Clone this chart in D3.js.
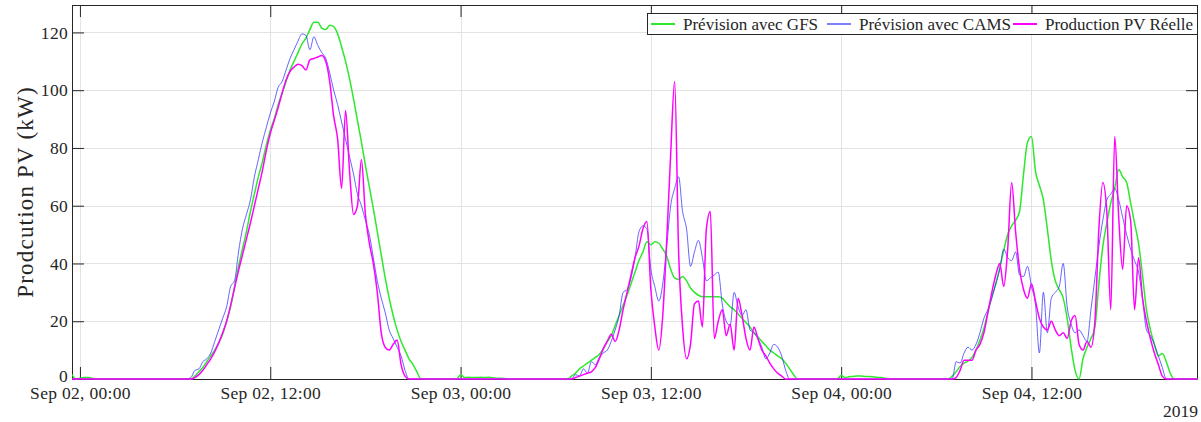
<!DOCTYPE html>
<html>
<head>
<meta charset="utf-8">
<script src="https://cdn.jsdelivr.net/npm/d3@7"></script>
<style>
body { margin: 0; background: #fff; }
svg { display: block; }
text { font-family: "Liberation Serif", "DejaVu Serif", serif; fill: #262626; }
</style>
</head>
<body>
<svg id="chart" width="1201" height="422"></svg>
<script>
// quarter-hour values, each day window starts at 06:30
var seriesNames = ["Prévision avec GFS", "Prévision avec CAMS", "Production PV Réelle"];
var dayStarts = ["2019-09-02T06:30", "2019-09-03T06:30", "2019-09-04T06:30"];
var nightStarts = ["2019-09-01T23:30", "2019-09-02T23:30", "2019-09-03T23:30"];
var timeDomain = ["2019-09-01T23:30", "2019-09-04T22:30"];

var gfsDay = [
    [0,0,0,1,2.5,4,6,8,10,12.5,15.5,20,25,32,39,45,51,58,64,70,75,81,86,90,95,99,103,107,110,113,116,118,121,123.5,123.5,121.5,121,122.5,122,119.5,115,110,104,97,89.5,82,74,66.5,59,51,43,35,28,22,17,13,10,7,5,2.5,0],
    [0,0,1,2,3.5,4.5,5.5,6.5,7.5,8.5,10.5,13,15,18.5,22,25.5,29,33,37,41,44,47.5,46.5,47.5,47,45,42.5,38,35,34.5,35.5,34,31.5,30,29,28.5,28.5,28.5,28.5,28.5,28,26.5,25,24,22.5,21,19.5,18,16,14.5,13,11.5,10,9,8,7,5.5,3.5,1.5,0,0],
    [0,0,1,2.5,4.3,5.5,6.2,7.5,10,13.5,17.5,23,28.5,33,38.5,44.5,50,53,55,58,71,82,84,72,67,62,52,41,34,31,28,21,11,3,0,7,11,14,18,33,46,54,61,66,72.5,70,68,61,54,47,36,24,17,12,8,8.8,6,2,0,0,0]
];
var gfsNight = [
    [1.5,0,0.3,0.5,0.5,0.3,0],
    [0,0,1.5,0.5,0.6,0.5,0.5,0.6,0.5,0.6,0.4,0.3,0.3,0.2,0],
    [0,0,1.2,0.5,0.8,0.9,1,1,0.9,0.9,0.8,0.6,0.5,0.3,0]
];
var camsDay = [
    [0,0,0.5,3,3.5,6,7,9,13,17,21,25,32,34,44,52,57,62,70,76,82,87,92,96,101,103,107,111,114,117,119.5,119,114,118.5,115.5,113,111,106,100,95,89,83,77,71,64,60,55,50,42,34,28,23,17,14,11,8,3,0,0,0,0],
    [0,0,0,1.5,1,3.5,2,6,5,7.5,9,10,13,17,22,30,31,35,42,51,53,52,38,32,27,33,46,60,66,70,58,52,39,44,48,42,34,35,36,37,26,20,18.5,30,25,22,24,17,16,14,11,7,9,12,11,8,3,0,0,0,0],
    [0,0,0,6,5.5,9,11,10,12,16,21,24,28,33,38,45,42,41,44,36,35.5,39,32,26,9,30,16,28,30,32,40,25,19,16,17,15,13,24,35,46,55,62,64,66,62,56,50,45,41,37,28,17,15,12,8,4,0,0,0,0,0]
];
var pvDay = [
    [0,0,0,0.5,1.5,3,5,7,9.5,12.5,16,20,25.5,31.5,37.5,43,48.5,54,60,66,72,79,85,89.5,94,99,103.5,106.5,108,109,108.5,107,110.5,111,111.5,112,110,103,91,83,66,93,72,57,60,76,57,47,40,30,16,11,10,12,13.5,5,1,0,0,0,0],
    [0,0,0,0.5,1,1.5,2,2.5,4,7,10.5,13,15.5,13,17,24,30,36,42,46,52,54.5,31,18,10,22,48,78,103,44,18,7,12,26,27,18,52,58,14,20,24,15,19,10,28,22,14,10,18,14,10,8,5.5,3.5,2,1,0,0,0,0,0],
    [0,0,0,0.5,3,6.5,6.5,6.5,10,12,16,23,30,36,40,32,45,68,51,38,31,28,33,27,21,18,17,20,17,15,16,14,20,22,12,10,13,11,20,52,68,58,24,84,56,38,60,55,24,42,28,20,14,9,5,1,0,0,0,0,0]
];

var yTicks = [0, 20, 40, 60, 80, 100, 120];
var xTicks = ["2019-09-02T00:00", "2019-09-02T12:00", "2019-09-03T00:00", "2019-09-03T12:00", "2019-09-04T00:00", "2019-09-04T12:00"];
var xTickLabels = ["Sep 02, 00:00", "Sep 02, 12:00", "Sep 03, 00:00", "Sep 03, 12:00", "Sep 04, 00:00", "Sep 04, 12:00"];

var options = {
    left: 72, right: 1198, top: 5, bottom: 379,
    yMax: 129.5,
    colors: ["#2de82d", "#3232ff", "#ff00ff"],
    widths: [1.5, 0.75, 1.5],
    legendLineX: [651, 827, 1013],
    legendTop: 13,
    legendHeight: 21
};

var parseTime = d3.timeParse("%Y-%m-%dT%H:%M");

function buildSeries(dayValues, nightValues)
{
    var grid = d3.timeMinute.every(15).range(parseTime(timeDomain[0]), d3.timeMinute.offset(parseTime(timeDomain[1]), 1));
    var values = new Map();
    grid.forEach(function(t) { values.set(+t, 0); });

    function put(starts, lists)
    {
        lists.forEach(function(list, i)
        {
            var t0 = parseTime(starts[i]);
            list.forEach(function(v, k)
            {
                var t = +d3.timeMinute.offset(t0, 15 * k);
                if (values.has(t)) values.set(t, v);
            });
        });
    }

    if (nightValues) put(nightStarts, nightValues);
    put(dayStarts, dayValues);

    return grid.map(function(t) { return { time: t, value: values.get(+t) }; });
}

var svg = d3.select("#chart");

var x = d3.scaleTime()
    .domain(timeDomain.map(parseTime))
    .range([options.left, options.right]);

var y = d3.scaleLinear()
    .domain([0, options.yMax])
    .range([options.bottom, options.top]);

// grid
var grid = svg.append("g").attr("stroke", "#e3e3e3").attr("stroke-width", 1);
xTicks.forEach(function(t)
{
    var px = Math.round(x(parseTime(t))) + 0.5;
    grid.append("line").attr("x1", px).attr("x2", px).attr("y1", options.top).attr("y2", options.bottom);
});
yTicks.forEach(function(v)
{
    var py = Math.round(y(v)) + 0.5;
    grid.append("line").attr("x1", options.left).attr("x2", options.right).attr("y1", py).attr("y2", py);
});

// axes
var fontSize = 17.5;

var xAxis = svg.append("g")
    .attr("transform", "translate(0," + options.bottom + ")")
    .call(d3.axisBottom(x)
        .tickValues(xTicks.map(parseTime))
        .tickFormat(function(d, i) { return xTickLabels[i]; })
        .tickSizeInner(-12).tickSizeOuter(0).tickPadding(7.5));

var xAxisTop = svg.append("g")
    .attr("transform", "translate(0," + options.top + ")")
    .call(d3.axisTop(x)
        .tickValues(xTicks.map(parseTime))
        .tickFormat("")
        .tickSizeInner(-12).tickSizeOuter(0));

var yAxis = svg.append("g")
    .attr("transform", "translate(" + options.left + ",0)")
    .call(d3.axisLeft(y)
        .tickValues(yTicks)
        .tickSizeInner(-12).tickSizeOuter(0).tickPadding(4));

var yAxisRight = svg.append("g")
    .attr("transform", "translate(" + options.right + ",0)")
    .call(d3.axisRight(y)
        .tickValues(yTicks)
        .tickFormat("")
        .tickSizeInner(-12).tickSizeOuter(0));

[xAxis, xAxisTop, yAxis, yAxisRight].forEach(function(g)
{
    g.select(".domain").remove();
    g.selectAll(".tick line").attr("stroke", "#262626");
    g.attr("font-family", null).attr("font-size", null);
    g.selectAll("text").style("font-size", fontSize + "px").style("letter-spacing", "0.3px").attr("fill", "#262626");
});

// lift the "0" a little so it clears the first date label
yAxis.selectAll(".tick text").filter(function(d) { return d == 0; }).attr("dy", "0.15em");

svg.append("rect")
    .attr("x", options.left + 0.5)
    .attr("y", options.top + 0.5)
    .attr("width", options.right - options.left - 1)
    .attr("height", options.bottom - options.top)
    .attr("fill", "none")
    .attr("stroke", "#262626")
    .attr("stroke-width", 1);

// series
svg.append("clipPath").attr("id", "plot-clip")
    .append("rect")
    .attr("x", options.left).attr("y", options.top - 2)
    .attr("width", options.right - options.left)
    .attr("height", options.bottom - options.top + 4);

var allSeries = [
    buildSeries(gfsDay, gfsNight),
    buildSeries(camsDay, null),
    buildSeries(pvDay, null)
];

var line = d3.line()
    .x(function(d) { return x(d.time); })
    .y(function(d) { return y(d.value); })
    .curve(d3.curveMonotoneX);

allSeries.forEach(function(series, i)
{
    svg.append("path")
        .datum(series)
        .attr("clip-path", "url(#plot-clip)")
        .attr("d", line)
        .attr("fill", "none")
        .attr("stroke", options.colors[i])
        .attr("stroke-width", options.widths[i])
        .attr("stroke-linejoin", "round");
});

// labels
svg.append("text")
    .attr("transform", "translate(33," + ((options.top + options.bottom) / 2) + ") rotate(-90)")
    .attr("text-anchor", "middle")
    .style("font-size", "23px")
    .style("letter-spacing", "1.2px")
    .text("Prodcution PV (kW)");

svg.append("text")
    .attr("x", options.right)
    .attr("y", 417)
    .attr("text-anchor", "end")
    .style("font-size", fontSize + "px")
    .text("2019");

// legend
var legend = svg.append("g");
legend.append("rect")
    .attr("x", options.legendLineX[0] - 3.5)
    .attr("y", options.legendTop + 0.5)
    .attr("width", options.right - options.legendLineX[0] + 3)
    .attr("height", options.legendHeight)
    .attr("fill", "#fff")
    .attr("stroke", "#262626")
    .attr("stroke-width", 1);

seriesNames.forEach(function(name, i)
{
    var lx = options.legendLineX[i];
    var ly = options.legendTop + options.legendHeight / 2 + 0.5;
    legend.append("line")
        .attr("x1", lx).attr("x2", lx + 24)
        .attr("y1", ly).attr("y2", ly)
        .attr("stroke", options.colors[i])
        .attr("stroke-width", options.widths[i] + 0.5);
    legend.append("text")
        .attr("x", lx + 32)
        .attr("y", ly + 5.5)
        .style("font-size", "17px")
        .text(name);
});
</script>
</body>
</html>
